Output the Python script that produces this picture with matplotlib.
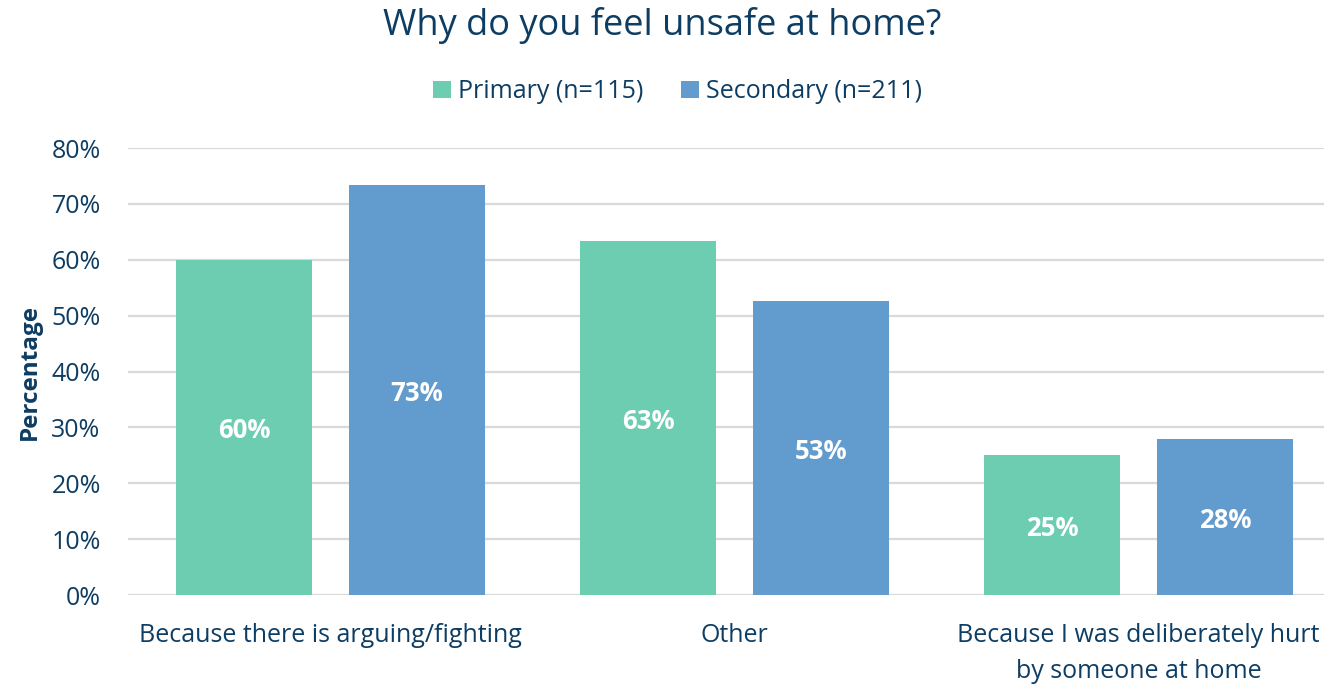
import numpy as np
import matplotlib.pyplot as plt

# Chart values.
categories = ["Because there is arguing/fighting", "Other",
              "Because I was deliberately hurt\nby someone at home"]
series_names = ["Primary (n=115)", "Secondary (n=211)"]
primary = [60.0, 63.4, 25.1]
secondary = [73.4, 52.6, 27.9]
y_ticks = [0, 10, 20, 30, 40, 50, 60, 70, 80]

text_color = "#0E3D63"
green = "#6DCDB1"
blue = "#629BCD"

plt.rcParams["font.family"] = ["Open Sans", "DejaVu Sans"]

fig = plt.figure(figsize=(13.24, 6.84), dpi=100)
ax = fig.add_axes([0.0970, 0.1301, 0.9030, 0.6535])

x = np.arange(len(categories))
width = 0.337
offset = 0.214

bars1 = ax.bar(x - offset, primary, width, color=green, label=series_names[0], zorder=3)
bars2 = ax.bar(x + offset, secondary, width, color=blue, label=series_names[1], zorder=3)

# Value labels in the middle of each bar.
for bars in [bars1, bars2]:
    for b in bars:
        h = b.get_height()
        ax.text(b.get_x() + b.get_width() / 2, h / 2 - 0.6, f"{h:.0f}%",
                ha="center", va="center", color="white",
                fontsize=18.5, fontweight="bold", zorder=4)

ax.set_ylim(0, 80)
ax.set_xlim(-0.5, 2.459)
ax.set_yticks(y_ticks)
ax.set_yticklabels([f"{t}%" for t in y_ticks], fontsize=18, color=text_color)
ax.set_xticks(x)
ax.set_xticklabels(categories, fontsize=18, color=text_color, linespacing=1.6)
ax.tick_params(axis="x", length=0, pad=20)
ax.tick_params(axis="y", length=0, pad=20)

ax.grid(axis="y", color="#D9D9D9", linewidth=1.6, zorder=0)
ax.set_axisbelow(True)
for s in ax.spines.values():
    s.set_visible(False)

ax.set_ylabel("Percentage", fontsize=17.5, fontweight="bold", color=text_color, labelpad=7)

fig.suptitle("Why do you feel unsafe at home?", fontsize=26, color=text_color, y=0.99)

leg = fig.legend(loc="center", bbox_to_anchor=(0.512, 0.866), ncol=2, frameon=False,
                 fontsize=18, handlelength=0.7, handleheight=0.7,
                 handletextpad=0.3, columnspacing=1.5)
for t in leg.get_texts():
    t.set_color(text_color)

fig.savefig("out.png", dpi=100)
